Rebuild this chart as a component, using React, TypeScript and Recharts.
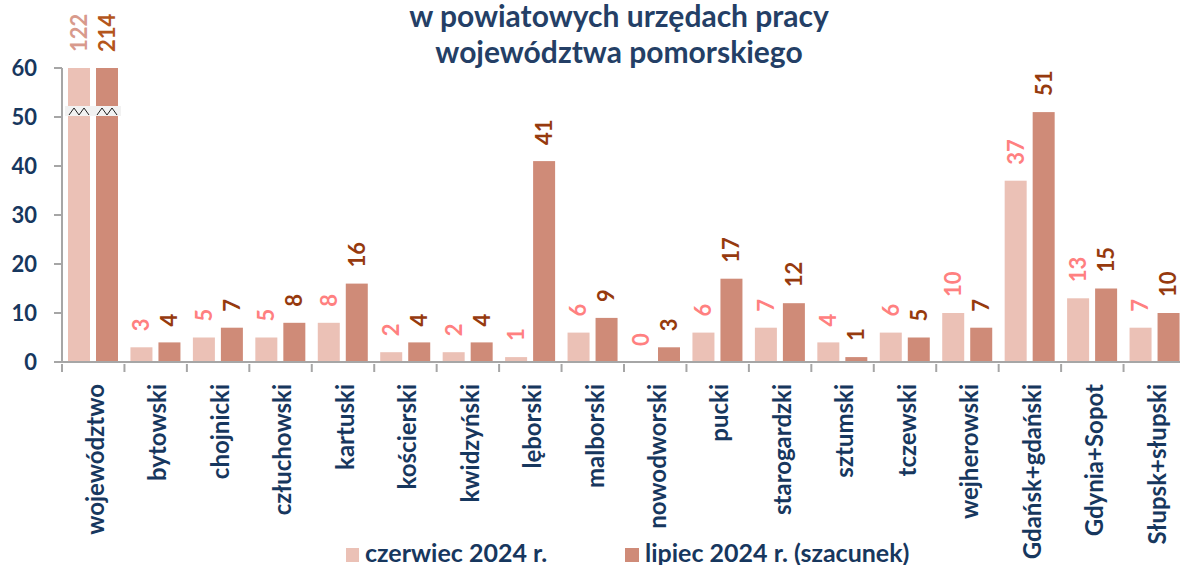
import React from 'react';
import { BarChart, Bar, XAxis, YAxis, LabelList } from 'recharts';

const categories = [
  'województwo', 'bytowski', 'chojnicki', 'człuchowski', 'kartuski', 'kościerski',
  'kwidzyński', 'lęborski', 'malborski', 'nowodworski', 'pucki', 'starogardzki',
  'sztumski', 'tczewski', 'wejherowski', 'Gdańsk+gdański', 'Gdynia+Sopot', 'Słupsk+słupski',
];
const czerwiec = [122, 3, 5, 5, 8, 2, 2, 1, 6, 0, 6, 7, 4, 6, 10, 37, 13, 7];
const lipiec = [214, 4, 7, 8, 16, 4, 4, 41, 9, 3, 17, 12, 1, 5, 7, 51, 15, 10];
const yTicks = [0, 10, 20, 30, 40, 50, 60];

const data = categories.map((name, i) => ({ name, czerwiec: czerwiec[i], lipiec: lipiec[i] }));

const NAVY = '#17375E';
const TITLE = '#243F66';
const LIGHT = '#EBC1B6';
const DARK = '#CF8B78';
const FONT = 'Lato, "Open Sans", sans-serif';

const W = 1186;
const H = 565;
const TOP = 68;
const LEFT = 62;
const BOTTOM = 203;
const BAND = (W - LEFT) / categories.length;

const BreakBar = (props: any) => {
  const { x, y, width, height, fill } = props;
  const bottom = y + height;
  const top = Math.max(y, TOP);
  const clipped = y < TOP - 0.5;
  const by = TOP + 43;
  const xc = x + width / 2;
  return (
    <g>
      <rect x={x} y={top} width={width} height={Math.max(0, bottom - top)} fill={fill} />
      {clipped && (
        <g>
          <rect x={x - 3} y={by - 5} width={width + 6} height={10} fill="#F2F2F2" />
          <polyline
            points={`${xc - 10},${by + 4} ${xc - 5},${by - 3} ${xc},${by + 4} ${xc + 5},${by - 3} ${xc + 10},${by + 4}`}
            fill="none"
            stroke="#222"
            strokeWidth={1}
          />
        </g>
      )}
    </g>
  );
};

const makeLabel = (firstColor: string, color: string) => (props: any) => {
  const { x, y, width, value, index } = props;
  const top = Math.max(Number(y), TOP);
  const cx = Number(x) + Number(width) / 2;
  const ly = top - 16;
  return (
    <text
      x={cx}
      y={ly}
      transform={`rotate(-90, ${cx}, ${ly})`}
      textAnchor="start"
      dy="0.36em"
      fill={index === 0 ? firstColor : color}
      fontFamily={FONT}
      fontWeight={700}
      fontSize={22}
    >
      {value}
    </text>
  );
};

const XTick = (props: any) => {
  const { x, y, payload } = props;
  return (
    <g transform={`translate(${x},${y})`}>
      <line x1={-BAND / 2} x2={-BAND / 2} y1={0} y2={8} stroke="#A6A6A6" strokeWidth={2} />
      <text
        transform="rotate(-90)"
        x={-20}
        y={0}
        dy="0.45em"
        textAnchor="end"
        fill={NAVY}
        fontFamily={FONT}
        fontWeight={700}
        fontSize={24}
      >
        {payload.value}
      </text>
    </g>
  );
};

export default function App() {
  return (
    <div style={{ position: 'absolute', left: 0, top: 0, width: 1180, height: H, overflow: 'hidden', background: '#fff', fontFamily: FONT }}>
      <div style={{ position: 'absolute', left: 0, width: 1238, top: -3, textAlign: 'center', color: TITLE, fontWeight: 700, fontSize: 30, lineHeight: '36px' }}>
        <div>w powiatowych urzędach pracy</div>
        <div>województwa pomorskiego</div>
      </div>
      <BarChart
        width={W}
        height={H}
        data={data}
        margin={{ top: TOP, right: 0, left: 0, bottom: 0 }}
        barSize={22}
        barGap={6}
        style={{ position: 'absolute', left: 0, top: 0 }}
      >
        <XAxis
          dataKey="name"
          interval={0}
          height={BOTTOM}
          tickLine={false}
          tickSize={0}
          tick={<XTick />}
          axisLine={{ stroke: '#A6A6A6', strokeWidth: 2 }}
        />
        <YAxis
          width={LEFT}
          domain={[0, 60]}
          ticks={yTicks}
          allowDataOverflow
          tickSize={8}
          tickMargin={17}
          tickLine={{ stroke: '#A6A6A6', strokeWidth: 2 }}
          axisLine={{ stroke: '#A6A6A6', strokeWidth: 2 }}
          tick={{ fill: NAVY, fontFamily: FONT, fontWeight: 700, fontSize: 22 }}
        />
        <Bar dataKey="czerwiec" fill={LIGHT} shape={<BreakBar />} isAnimationActive={false}>
          <LabelList dataKey="czerwiec" content={makeLabel('#D89A8C', '#FF8080')} />
        </Bar>
        <Bar dataKey="lipiec" fill={DARK} shape={<BreakBar />} isAnimationActive={false}>
          <LabelList dataKey="lipiec" content={makeLabel('#B4561C', '#963A0E')} />
        </Bar>
      </BarChart>
      <div style={{ position: 'absolute', top: 537, left: 0, width: 1180, height: 30, color: NAVY, fontWeight: 700, fontSize: 25 }}>
        <div style={{ position: 'absolute', left: 346, top: 11, width: 13, height: 14, background: LIGHT }} />
        <div style={{ position: 'absolute', left: 365, top: 0, lineHeight: '30px', whiteSpace: 'nowrap' }}>czerwiec 2024 r.</div>
        <div style={{ position: 'absolute', left: 625, top: 11, width: 14, height: 14, background: DARK }} />
        <div style={{ position: 'absolute', left: 645, top: 0, lineHeight: '30px', whiteSpace: 'nowrap' }}>lipiec 2024 r. (szacunek)</div>
      </div>
    </div>
  );
}
